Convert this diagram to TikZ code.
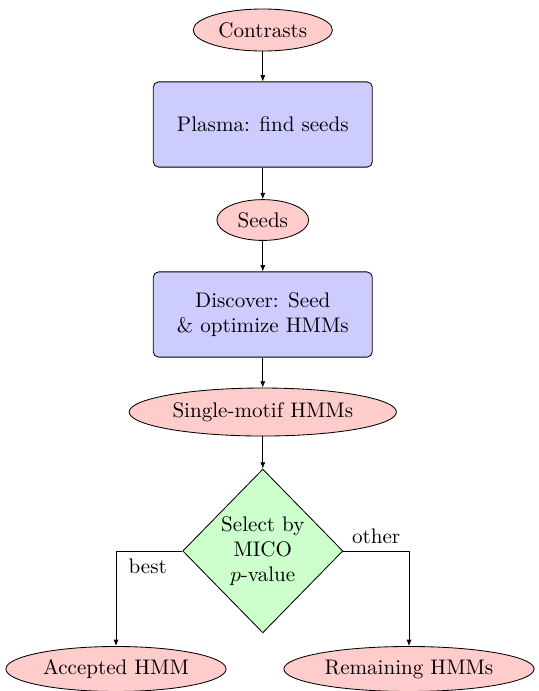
\documentclass[tikz,border=0pt]{standalone}
\usepackage{xcolor}
\usepackage{tikz}
\usetikzlibrary{arrows.meta,positioning,shapes.geometric}
\definecolor{softred}{HTML}{FFCCCC}
\definecolor{softblue}{HTML}{CCCCFF}
\definecolor{softgreen}{HTML}{CCFFCC}
\tikzset{
  terminal/.style={draw=black, ellipse, align=center, fill=softred, inner sep=2pt, minimum height=7mm},
  stepbox/.style={draw=black, rounded corners=2.5pt, align=center, fill=softblue, inner sep=6pt, minimum width=36.5mm, minimum height=14.2mm},
  decision/.style={diamond, draw=black, align=center, fill=softgreen, inner sep=0pt, minimum width=26.7mm, minimum height=27.3mm},
  arrow/.style={-{Latex[length=3pt,width=2.4pt]}, draw=black}
}

\begin{document}
\begin{tikzpicture}
  \useasboundingbox (0,0) rectangle (8.983,-11.517);
  \node[terminal, minimum width=23.2mm] (contrasts) at (4.38,-0.5) {Contrasts};
  \node[stepbox] (plasma) at (4.38,-2.075) {Plasma: find seeds};
  \node[terminal, minimum width=15.3mm, minimum height=6.8mm] (seeds) at (4.38,-3.667) {Seeds};
  \node[stepbox] (discover) at (4.38,-5.242) {Discover: Seed\\\& optimize HMMs};
  \node[terminal, minimum width=43.5mm, minimum height=8mm] (single) at (4.38,-6.867) {Single-motif HMMs};
  \node[decision] (select) at (4.38,-9.183) {Select by\\MICO\\$p$-value};
  \node[terminal, minimum width=36.7mm, minimum height=7.5mm] (accepted) at (1.933,-11.15) {Accepted HMM};
  \node[terminal, minimum width=40.7mm, minimum height=7.5mm] (remaining) at (6.817,-11.15) {Remaining HMMs};

  \draw[arrow] (contrasts) -- (plasma);
  \draw[arrow] (plasma) -- (seeds);
  \draw[arrow] (seeds) -- (discover);
  \draw[arrow] (discover) -- (single);
  \draw[arrow] (single) -- (select);
  \draw[arrow] (select.west) -| node[below, pos=0.26] {best} (accepted);
  \draw[arrow] (select.east) -| node[above, pos=0.25] {other} (remaining);
\end{tikzpicture}
\end{document}
